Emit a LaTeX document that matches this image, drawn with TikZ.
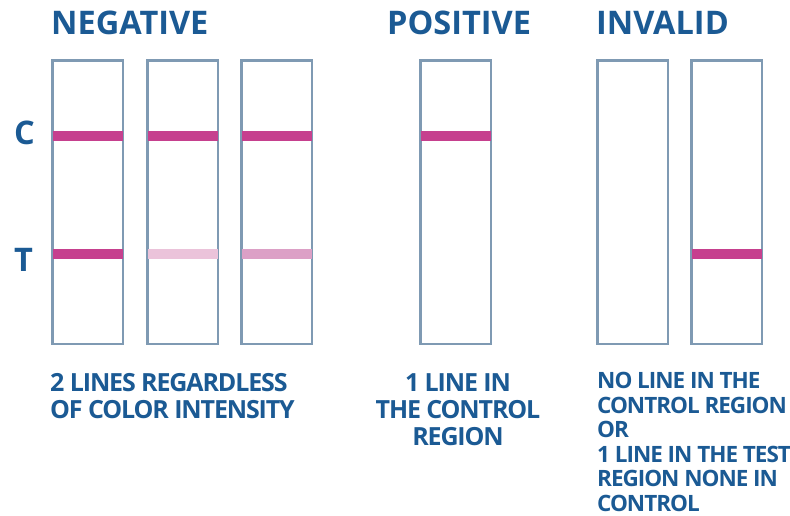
\documentclass[tikz,border=0pt]{standalone}
\usepackage{fontspec}
\setmainfont{Open Sans}
\newfontfamily\tightfont[LetterSpace=-4.5]{Open Sans}
\definecolor{txt}{HTML}{1B5A94}
\definecolor{stripc}{HTML}{7F9AB3}
\definecolor{mag}{HTML}{C6408E}
\definecolor{pale}{HTML}{EBC3DA}
\definecolor{mid}{HTML}{DCA0C6}
\begin{document}
\begin{tikzpicture}[x=1pt,y=-1pt,
  stripbox/.style={draw=stripc,line width=1.6pt,minimum width=70pt,minimum height=283pt,anchor=north west,inner sep=0pt},
  title/.style={text=txt,font=\bfseries\fontsize{32.5}{32.5}\selectfont,anchor=base west,inner sep=0pt},
  body/.style={text=txt,font=\tightfont\bfseries\fontsize{25}{27}\selectfont,inner sep=0pt},
  small/.style={text=txt,font=\tightfont\bfseries\fontsize{22.5}{24.6}\selectfont,inner sep=0pt}]
\useasboundingbox (0,0) rectangle (790,516);
\fill[white] (0,0) rectangle (790,516);
% titles
\node[title] (tneg) at (51,35) {NEGATIVE};
\node[title] (tpos) at (387,35) {POSITIVE};
\node[title] (tinv) at (596,35) {INVALID};
\node[title] (lc) at (14,145) {C};
\node[title] (lt) at (14,271) {T};
% strips
\node[stripbox] (s1) at (52,60) {};
\node[stripbox] (s2) at (147,60) {};
\node[stripbox] (s3) at (241,60) {};
\node[stripbox] (s4) at (420,60) {};
\node[stripbox] (s5) at (597,60) {};
\node[stripbox] (s6) at (691,60) {};
% control bands
\foreach \s in {s1,s2,s3,s4}
  \fill[mag] (\s.west |- 0,131.5) rectangle (\s.east |- 0,141);
% test bands
\fill[mag] (s1.west |- 0,249) rectangle (s1.east |- 0,258.5);
\fill[pale] (s2.west |- 0,249) rectangle (s2.east |- 0,258.5);
\fill[mid] (s3.west |- 0,249) rectangle (s3.east |- 0,258.5);
\fill[mag] (s6.west |- 0,249) rectangle (s6.east |- 0,258.5);
% redraw strip borders over bands
\foreach \s in {s1,s2,s3,s4,s5,s6}
  \draw[stripc,line width=1.6pt] (\s.north west) rectangle (\s.south east);
% captions
\node[body,anchor=north west,align=left] (cneg) at (50,373) {2 LINES REGARDLESS\\OF COLOR INTENSITY};
\node[body,anchor=north,align=center] (cpos) at (458,373) {1 LINE IN\\THE CONTROL\\REGION};
\node[small,anchor=north west,align=left] (cinv) at (597,372) {NO LINE IN THE\\CONTROL REGION\\OR\\1 LINE IN THE TEST\\REGION NONE IN\\CONTROL};
\end{tikzpicture}
\end{document}
